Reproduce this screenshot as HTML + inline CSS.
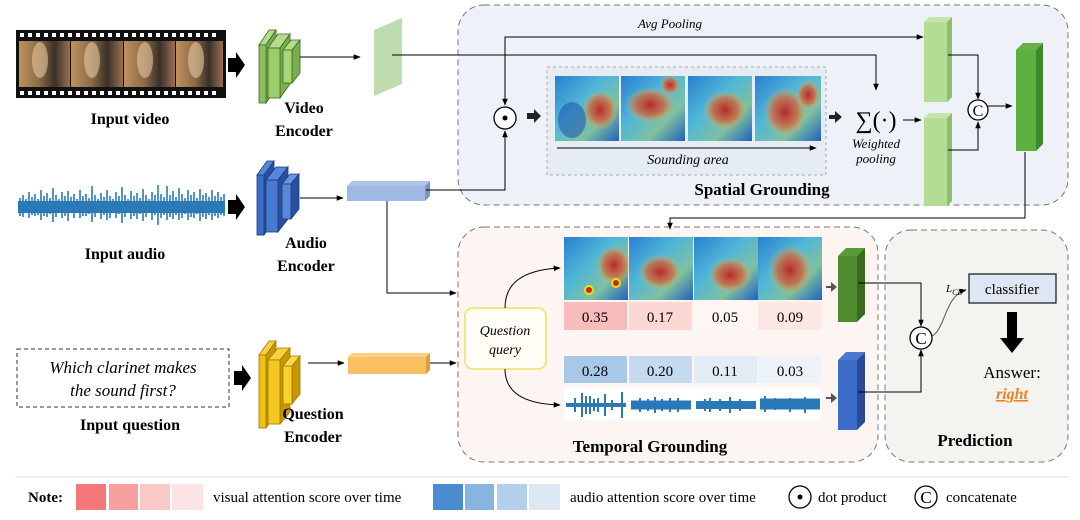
<!DOCTYPE html>
<html><head><meta charset="utf-8"><style>
html,body{margin:0;padding:0;background:#fff}
svg{display:block}
text{font-family:"Liberation Serif",serif}
</style></head><body>
<svg width="1080" height="520" viewBox="0 0 1080 520" xmlns="http://www.w3.org/2000/svg">
<defs>
<marker id="ar" viewBox="0 0 10 10" refX="9" refY="5" markerWidth="7" markerHeight="7" orient="auto-start-reverse"><path d="M0,1 L10,5 L0,9 z" fill="#000"/></marker>
<linearGradient id="hm1" x1="0" y1="0" x2="1" y2="1"><stop offset="0" stop-color="#2a7fd0"/><stop offset="0.4" stop-color="#4fb7d8"/><stop offset="0.7" stop-color="#7fc0a0"/><stop offset="1" stop-color="#2060c0"/></linearGradient>
<radialGradient id="red"><stop offset="0" stop-color="#b8282a"/><stop offset="0.6" stop-color="#d06a40" stop-opacity="0.8"/><stop offset="1" stop-color="#e0c060" stop-opacity="0"/></radialGradient>
<linearGradient id="film" x1="0" y1="0" x2="1" y2="0"><stop offset="0" stop-color="#c09060"/><stop offset="0.4" stop-color="#8a6a48"/><stop offset="0.7" stop-color="#3a3028"/><stop offset="1" stop-color="#9a7050"/></linearGradient>
</defs>

<rect x="458" y="5" width="610" height="200" rx="26" fill="#eef1f8" stroke="#777" stroke-dasharray="6,4"/>
<rect x="458" y="227" width="420" height="235" rx="26" fill="#fcf5f1" stroke="#777" stroke-dasharray="6,4"/>
<rect x="885" y="230" width="183" height="232" rx="26" fill="#f3f4f0" stroke="#777" stroke-dasharray="6,4"/>

<!-- Film strip -->
<rect x="16" y="30" width="210" height="68" fill="#111"/>
<g fill="#fff">
<rect x="20" y="33" width="4" height="4"/><rect x="28" y="33" width="4" height="4"/><rect x="36" y="33" width="4" height="4"/><rect x="44" y="33" width="4" height="4"/><rect x="52" y="33" width="4" height="4"/><rect x="60" y="33" width="4" height="4"/><rect x="68" y="33" width="4" height="4"/><rect x="76" y="33" width="4" height="4"/><rect x="84" y="33" width="4" height="4"/><rect x="92" y="33" width="4" height="4"/><rect x="100" y="33" width="4" height="4"/><rect x="108" y="33" width="4" height="4"/><rect x="116" y="33" width="4" height="4"/><rect x="124" y="33" width="4" height="4"/><rect x="132" y="33" width="4" height="4"/><rect x="140" y="33" width="4" height="4"/><rect x="148" y="33" width="4" height="4"/><rect x="156" y="33" width="4" height="4"/><rect x="164" y="33" width="4" height="4"/><rect x="172" y="33" width="4" height="4"/><rect x="180" y="33" width="4" height="4"/><rect x="188" y="33" width="4" height="4"/><rect x="196" y="33" width="4" height="4"/><rect x="204" y="33" width="4" height="4"/><rect x="212" y="33" width="4" height="4"/>
<rect x="20" y="91" width="4" height="4"/><rect x="28" y="91" width="4" height="4"/><rect x="36" y="91" width="4" height="4"/><rect x="44" y="91" width="4" height="4"/><rect x="52" y="91" width="4" height="4"/><rect x="60" y="91" width="4" height="4"/><rect x="68" y="91" width="4" height="4"/><rect x="76" y="91" width="4" height="4"/><rect x="84" y="91" width="4" height="4"/><rect x="92" y="91" width="4" height="4"/><rect x="100" y="91" width="4" height="4"/><rect x="108" y="91" width="4" height="4"/><rect x="116" y="91" width="4" height="4"/><rect x="124" y="91" width="4" height="4"/><rect x="132" y="91" width="4" height="4"/><rect x="140" y="91" width="4" height="4"/><rect x="148" y="91" width="4" height="4"/><rect x="156" y="91" width="4" height="4"/><rect x="164" y="91" width="4" height="4"/><rect x="172" y="91" width="4" height="4"/><rect x="180" y="91" width="4" height="4"/><rect x="188" y="91" width="4" height="4"/><rect x="196" y="91" width="4" height="4"/><rect x="204" y="91" width="4" height="4"/><rect x="212" y="91" width="4" height="4"/>
</g>
<rect x="19" y="41" width="51" height="46" fill="url(#film)"/><rect x="71" y="41" width="52" height="46" fill="url(#film)"/><rect x="124" y="41" width="51" height="46" fill="url(#film)"/><rect x="176" y="41" width="47" height="46" fill="url(#film)"/>
<g fill="#e8c8a0" opacity="0.6"><ellipse cx="40" cy="60" rx="8" ry="18"/><ellipse cx="92" cy="60" rx="8" ry="18"/><ellipse cx="145" cy="60" rx="8" ry="18"/><ellipse cx="196" cy="60" rx="8" ry="18"/></g>
<path d="M228 58 h8 v-6 l9 13 l-9 13 v-6 h-8z" fill="#000"/>
<text x="130" y="124" font-size="16" font-weight="bold" text-anchor="middle">Input video</text>

<!-- Video encoder -->
<g stroke="#3a6a20" stroke-width="0.8">
<path d="M259 45 l10 -15 h7 l-10 15z" fill="#b4dc8c"/><path d="M266 45 l10 -15 v58 l-10 15z" fill="#7aac50"/><rect x="259" y="45" width="7" height="58" fill="#8cc060"/>
<path d="M268 48 l10 -14 h12 l-10 14z" fill="#b4dc8c"/><path d="M280 48 l10 -14 v50 l-10 14z" fill="#7aac50"/><rect x="268" y="48" width="12" height="50" fill="#9ccc6c"/>
<path d="M283 50 l8 -10 h9 l-8 10z" fill="#b4dc8c"/><path d="M292 50 l8 -10 v33 l-8 10z" fill="#7aac50"/><rect x="283" y="50" width="9" height="33" fill="#a8d47a"/>
</g>
<text x="304" y="113" font-size="16" font-weight="bold" text-anchor="middle">Video</text>
<text x="304" y="136" font-size="16" font-weight="bold" text-anchor="middle">Encoder</text>
<line x1="300" y1="57" x2="360" y2="57" stroke="#000" marker-end="url(#ar)"/>
<path d="M374 30 l28 -12 v66 l-28 12z" fill="#b8d8a8" opacity="0.9"/>
<polyline points="392,55 876,55 876,90" fill="none" stroke="#000" marker-end="url(#ar)"/>
<polyline points="505,105 505,37 923,37" fill="none" stroke="#000" marker-end="url(#ar)" marker-start="url(#ar)"/>
<text x="670" y="28" font-size="13" font-style="italic" text-anchor="middle">Avg Pooling</text>

<circle cx="505" cy="118" r="11" fill="#fff" stroke="#000" stroke-width="1.3"/><circle cx="505" cy="118" r="2.5" fill="#000"/>
<path d="M527 113 h7 v-4 l7 7 l-7 7 v-4 h-7z" fill="#222"/>

<rect x="547" y="67" width="279" height="108" fill="#e6ecf4" stroke="#aaa" stroke-dasharray="3,3"/>
<g>
<rect x="555" y="76" width="64" height="65" fill="url(#hm1)"/><ellipse cx="600" cy="110" rx="18" ry="20" fill="url(#red)"/><ellipse cx="572" cy="120" rx="14" ry="18" fill="#1848a8" opacity="0.5"/>
<rect x="621" y="76" width="64" height="65" fill="url(#hm1)"/><ellipse cx="650" cy="105" rx="25" ry="18" fill="url(#red)"/><ellipse cx="670" cy="85" rx="10" ry="10" fill="url(#red)"/>
<rect x="688" y="76" width="64" height="65" fill="url(#hm1)"/><ellipse cx="725" cy="110" rx="22" ry="20" fill="url(#red)"/>
<rect x="755" y="76" width="66" height="65" fill="url(#hm1)"/><ellipse cx="785" cy="112" rx="22" ry="25" fill="url(#red)"/><ellipse cx="808" cy="95" rx="12" ry="15" fill="url(#red)"/>
</g>
<line x1="557" y1="148" x2="816" y2="148" stroke="#000" marker-end="url(#ar)"/>
<text x="688" y="164" font-size="14" font-style="italic" text-anchor="middle">Sounding  area</text>
<path d="M829 115 h6 v-4 l7 6 l-7 6 v-4 h-6z" fill="#222"/>
<text x="876" y="128" font-size="24" text-anchor="middle">∑(·)</text>
<line x1="903" y1="120" x2="921" y2="120" stroke="#000" marker-end="url(#ar)"/>
<text x="876" y="148" font-size="13" font-style="italic" text-anchor="middle">Weighted</text>
<text x="876" y="163" font-size="13" font-style="italic" text-anchor="middle">pooling</text>

<g>
<path d="M924 22 l5 -5 h23 l-5 5z" fill="#c8e4a8"/><path d="M947 22 l5 -5 v80 l-5 5z" fill="#8cc070"/><rect x="924" y="22" width="23" height="80" fill="#b4dc94"/>
<path d="M924 118 l5 -5 h23 l-5 5z" fill="#c8e4a8"/><path d="M947 118 l5 -5 v88 l-5 5z" fill="#8cc070"/><rect x="924" y="118" width="23" height="88" fill="#b4dc94"/>
</g>
<polyline points="948,55 978,55 978,99" fill="none" stroke="#000" marker-end="url(#ar)"/>
<polyline points="948,150 978,150 978,122" fill="none" stroke="#000" marker-end="url(#ar)"/>
<circle cx="978" cy="110" r="10" fill="#fff" stroke="#000" stroke-width="1.3"/><text x="978" y="116" font-size="16" text-anchor="middle">C</text>
<line x1="988" y1="106" x2="1012" y2="106" stroke="#000" marker-end="url(#ar)"/>
<path d="M1016 50 l7 -7 h20 l-7 7z" fill="#6ab04a"/><path d="M1036 50 l7 -7 v101 l-7 7z" fill="#3e8a2a"/><rect x="1016" y="50" width="20" height="101" fill="#5cb040"/>
<text x="762" y="195" font-size="17" font-weight="bold" text-anchor="middle">Spatial Grounding</text>
<polyline points="1025,152 1025,218 670,218 670,229" fill="none" stroke="#000" marker-end="url(#ar)"/>

<!-- Audio waveform -->
<g stroke="#2a7ab8" stroke-width="1.6">
<path d="M18 207 L225 207" stroke-width="12"/>
<path d="M20 198v18M23 195v22M26 199v14M29 192v26M32 197v18M35 194v22M38 199v16M41 190v30M44 196v20M47 193v24M50 198v16M53 188v34M56 195v22M59 199v14M62 192v26M65 196v20M68 191v30M71 197v16M74 194v24M77 199v14M80 190v28M83 196v20M86 194v22M89 198v16M92 186v36M95 195v22M98 199v14M101 193v26M104 197v18M107 190v30M110 196v22M113 199v14M116 192v26M119 196v18M122 187v36M125 195v22M128 199v14M131 191v28M134 196v20M137 193v26M140 198v16M143 189v32M146 195v22M149 199v14M152 192v28M155 195v20M158 185v40M161 194v24M164 197v18M167 186v34M170 195v22M173 191v28M176 197v18M179 188v32M182 194v24M185 198v16M188 190v30M191 195v22M194 192v26M197 198v16M200 189v32M203 195v22M206 193v26M209 197v18M212 190v30M215 196v20M218 192v26M221 197v18M224 194v22"/>
</g>
<path d="M228 200 h8 v-6 l9 13 l-9 13 v-6 h-8z" fill="#000"/>
<text x="125" y="259" font-size="16" font-weight="bold" text-anchor="middle">Input audio</text>
<g stroke="#1a3a80" stroke-width="0.8">
<path d="M257 175 l10 -14 h7 l-10 14z" fill="#5a88d8"/><path d="M264 175 l10 -14 v60 l-10 14z" fill="#2a50a0"/><rect x="257" y="175" width="7" height="60" fill="#3a6cc8"/>
<path d="M266 180 l10 -13 h12 l-10 13z" fill="#5a88d8"/><path d="M278 180 l10 -13 v52 l-10 13z" fill="#2a50a0"/><rect x="266" y="180" width="12" height="52" fill="#4a7ad0"/>
<path d="M282 184 l8 -10 h9 l-8 10z" fill="#6a96e0"/><path d="M291 184 l8 -10 v35 l-8 10z" fill="#2a50a0"/><rect x="282" y="184" width="9" height="35" fill="#5a88d8"/>
</g>
<text x="306" y="248" font-size="16" font-weight="bold" text-anchor="middle">Audio</text>
<text x="306" y="271" font-size="16" font-weight="bold" text-anchor="middle">Encoder</text>
<line x1="300" y1="198" x2="343" y2="198" stroke="#000" marker-end="url(#ar)"/>
<path d="M347 186 l5 -5 h78 l-5 5z" fill="#b0c4e8"/><path d="M425 186 l5 -5 v15 l-5 5z" fill="#7a94c8"/><rect x="347" y="186" width="78" height="15" fill="#a0b8e4"/>
<polyline points="426,190 505,190 505,131" fill="none" stroke="#000" marker-end="url(#ar)"/>
<polyline points="387,201 387,293 456,293" fill="none" stroke="#000" marker-end="url(#ar)"/>

<!-- Question -->
<rect x="17" y="349" width="212" height="58" fill="#fff" stroke="#333" stroke-dasharray="4,3"/>
<text x="123" y="373" font-size="17" font-style="italic" text-anchor="middle">Which clarinet makes</text>
<text x="123" y="396" font-size="17" font-style="italic" text-anchor="middle">the sound first?</text>
<path d="M234 371 h8 v-6 l9 13 l-9 13 v-6 h-8z" fill="#000"/>
<text x="130" y="430" font-size="16" font-weight="bold" text-anchor="middle">Input question</text>
<g stroke="#a07800" stroke-width="0.8">
<path d="M259 355 l10 -14 h7 l-10 14z" fill="#f8d040"/><path d="M266 355 l10 -14 v73 l-10 14z" fill="#c89800"/><rect x="259" y="355" width="7" height="73" fill="#f0c010"/>
<path d="M268 360 l10 -12 h12 l-10 12z" fill="#f8d040"/><path d="M280 360 l10 -12 v64 l-10 12z" fill="#c89800"/><rect x="268" y="360" width="12" height="64" fill="#f4c820"/>
<path d="M283 366 l8 -10 h9 l-8 10z" fill="#fcd850"/><path d="M292 366 l8 -10 v38 l-8 10z" fill="#c89800"/><rect x="283" y="366" width="9" height="38" fill="#f8d030"/>
</g>
<text x="313" y="419" font-size="16" font-weight="bold" text-anchor="middle">Question</text>
<text x="313" y="442" font-size="16" font-weight="bold" text-anchor="middle">Encoder</text>
<line x1="308" y1="363" x2="344" y2="363" stroke="#000" marker-end="url(#ar)"/>
<path d="M348 357 l4 -4 h78 l-4 4z" fill="#fcd080"/><path d="M426 357 l4 -4 v17 l-4 4z" fill="#d8a040"/><rect x="348" y="357" width="78" height="17" fill="#f8c060"/>
<line x1="430" y1="363" x2="456" y2="363" stroke="#000" marker-end="url(#ar)"/>

<!-- Temporal -->
<rect x="465" y="308" width="81" height="61" rx="8" fill="#fffdf6" stroke="#f0e060" stroke-width="1.5"/>
<text x="505" y="335" font-size="14" font-style="italic" text-anchor="middle">Question</text>
<text x="505" y="354" font-size="14" font-style="italic" text-anchor="middle">query</text>
<path d="M505 308 C505 285 520 270 560 268" fill="none" stroke="#000" marker-end="url(#ar)"/>
<path d="M505 369 C505 390 520 404 560 405" fill="none" stroke="#000" marker-end="url(#ar)"/>
<g>
<rect x="564" y="237" width="64" height="63" fill="url(#hm1)"/><ellipse cx="614" cy="265" rx="18" ry="20" fill="url(#red)"/><circle cx="589" cy="290" r="4" fill="#d02020" stroke="#f0e000" stroke-width="2"/><circle cx="616" cy="283" r="4" fill="#d02020" stroke="#f0e000" stroke-width="2"/>
<rect x="629" y="237" width="64" height="63" fill="url(#hm1)"/><ellipse cx="660" cy="272" rx="22" ry="18" fill="url(#red)"/>
<rect x="694" y="237" width="64" height="63" fill="url(#hm1)"/><ellipse cx="730" cy="275" rx="22" ry="18" fill="url(#red)"/>
<rect x="758" y="237" width="64" height="63" fill="url(#hm1)"/><ellipse cx="790" cy="270" rx="22" ry="25" fill="url(#red)"/>
</g>
<rect x="564" y="302" width="63" height="28" fill="#f8bcbc"/><rect x="629" y="302" width="63" height="28" fill="#fbd8d4"/><rect x="694" y="302" width="63" height="28" fill="#fdf6f2"/><rect x="758" y="302" width="63" height="28" fill="#fbe8e4"/>
<g font-size="15" text-anchor="middle"><text x="595" y="322">0.35</text><text x="660" y="322">0.17</text><text x="725" y="322">0.05</text><text x="790" y="322">0.09</text>
<rect x="564" y="356" width="63" height="27" fill="#a8c8e8"/><rect x="629" y="356" width="63" height="27" fill="#c4daf0"/><rect x="694" y="356" width="63" height="27" fill="#e2ecf6"/><rect x="758" y="356" width="63" height="27" fill="#ecf2f8"/>
<text x="595" y="376">0.28</text><text x="660" y="376">0.20</text><text x="725" y="376">0.11</text><text x="790" y="376">0.03</text></g>
<rect x="564" y="388" width="258" height="32" fill="#fff"/>
<g stroke="#2a78b8" stroke-width="2">
<path d="M566 405 h60" stroke-width="4"/><path d="M575 398v14M582 393v24M586 396v18M590 396v18M594 399v12M598 398v14M605 394v22M612 400v10M622 392v26"/>
<path d="M631 405 h60" stroke-width="9"/><path d="M696 405 h60" stroke-width="8"/><path d="M760 404 h60" stroke-width="11"/>
<path d="M640 398v14M648 399v12M655 397v16M662 399v12M670 398v14M678 398v14M705 399v12M710 398v14M720 399v12M730 397v16M740 399v12M765 396v16M775 398v12M790 398v14M805 397v16"/>
</g>
<path d="M826 286 h5 v-4 l6 5 l-6 5 v-4 h-5z" fill="#555"/>
<path d="M826 397 h5 v-4 l6 5 l-6 5 v-4 h-5z" fill="#555"/>
<path d="M838 256 l8 -8 h19 l-8 8z" fill="#5a9a3a"/><path d="M857 256 l8 -8 v66 l-8 8z" fill="#3a6a20"/><rect x="838" y="256" width="19" height="66" fill="#4f8c30"/>
<path d="M838 360 l8 -8 h19 l-8 8z" fill="#4a7ad0"/><path d="M857 360 l8 -8 v70 l-8 8z" fill="#2a4a98"/><rect x="838" y="360" width="19" height="70" fill="#3a6cc8"/>
<text x="650" y="452" font-size="17" font-weight="bold" text-anchor="middle">Temporal Grounding</text>

<!-- Prediction -->
<polyline points="858,283 921,283 921,326" fill="none" stroke="#000" marker-end="url(#ar)"/>
<polyline points="858,392 921,392 921,350" fill="none" stroke="#000" marker-end="url(#ar)"/>
<circle cx="921" cy="338" r="11" fill="#fff" stroke="#000" stroke-width="1.3"/><text x="921" y="344" font-size="17" text-anchor="middle">C</text>
<path d="M932 336 C945 330 945 295 966 290" fill="none" stroke="#555" marker-end="url(#ar)"/>
<text x="946" y="292" font-size="11" font-style="italic">L<tspan font-size="8" dy="3">CE</tspan></text>
<rect x="969" y="274" width="87" height="29" fill="#dde6f2" stroke="#222" stroke-width="1.3"/>
<text x="1012" y="294" font-size="15" text-anchor="middle">classifier</text>
<path d="M1007 312 h10 v26 h7 l-12 15 l-12 -15 h7z" fill="#000"/>
<text x="1012" y="378" font-size="17" text-anchor="middle">Answer:</text>
<text x="1012" y="399" font-size="16" font-weight="bold" font-style="italic" fill="#f08020" text-anchor="middle" text-decoration="underline">right</text>
<text x="975" y="446" font-size="17" font-weight="bold" text-anchor="middle">Prediction</text>

<!-- Legend -->
<line x1="15" y1="477" x2="1068" y2="477" stroke="#ddd"/>
<text x="28" y="502" font-size="15" font-weight="bold">Note:</text>
<rect x="76" y="484" width="30" height="26" fill="#f47878"/><rect x="109" y="484" width="29" height="26" fill="#f8a0a0"/><rect x="140" y="484" width="30" height="26" fill="#fbc8c8"/><rect x="172" y="484" width="31" height="26" fill="#fde4e4"/>
<text x="213" y="502" font-size="15">visual attention score over time</text>
<rect x="433" y="484" width="30" height="26" fill="#4a8cd0"/><rect x="465" y="484" width="29" height="26" fill="#88b4e0"/><rect x="497" y="484" width="30" height="26" fill="#b4cfec"/><rect x="529" y="484" width="31" height="26" fill="#dde8f5"/>
<text x="570" y="502" font-size="15">audio attention score over time</text>
<circle cx="800" cy="497" r="11" fill="#fff" stroke="#000" stroke-width="1.3"/><circle cx="800" cy="497" r="2.5" fill="#000"/>
<text x="818" y="502" font-size="15">dot product</text>
<circle cx="926" cy="497" r="11" fill="#fff" stroke="#000" stroke-width="1.3"/><text x="926" y="503" font-size="17" text-anchor="middle">C</text>
<text x="946" y="502" font-size="15">concatenate</text>
</svg>
</body></html>
